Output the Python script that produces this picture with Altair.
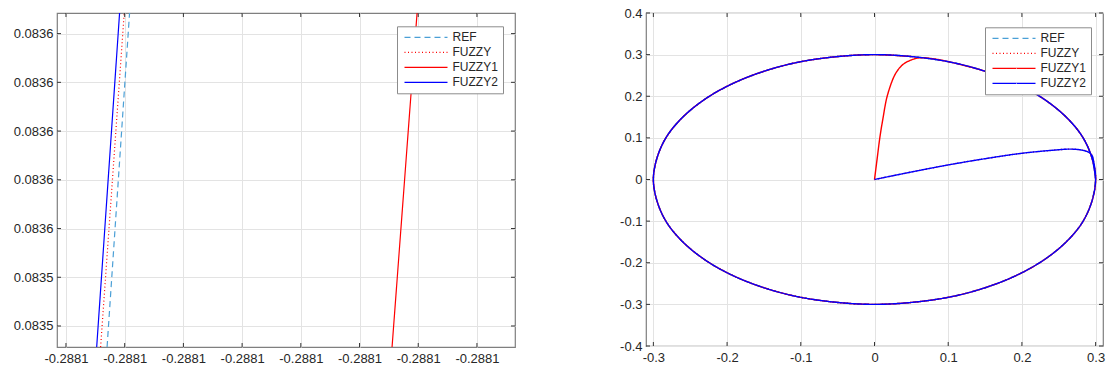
import altair as alt
import pandas as pd

SERIES = ["REF", "FUZZY", "FUZZY1", "FUZZY2"]
COLORS = ["#4a9fd6", "#ff0000", "#ff0000", "#0000ff"]
DASHES = [[6, 4], [1, 2.5], [1, 0], [1, 0]]

# ---------- left panel (zoomed view) ----------
L_XTICKS = [-0.288108, -0.288107, -0.288106, -0.288105, -0.288104, -0.288103, -0.288102, -0.288101]
L_YTICKS = [0.0835485, 0.0835495, 0.0835505, 0.0835515, 0.0835525, 0.0835535, 0.0835545]
L_XDOM = [-0.288108153, -0.288100352]
L_YDOM = [0.083548069, 0.083554923]
L_Y = [0.083548069, 0.083554923]
L_REF_X = [-0.288107300, -0.288106917]
L_FUZZY_X = [-0.288107410, -0.288107008]
L_FUZZY1_X = [-0.288102446, -0.288102020]
L_FUZZY2_X = [-0.288107477, -0.288107087]

# ---------- right panel (full trajectory) ----------
R_XTICKS = [-0.3, -0.2, -0.1, 0.0, 0.1, 0.2, 0.3]
R_YTICKS = [-0.4, -0.3, -0.2, -0.1, 0.0, 0.1, 0.2, 0.3, 0.4]
R_XDOM = [-0.31, 0.31]
R_YDOM = [-0.4, 0.4]
# reference circle, counter-clockwise from (0.3, 0)
CIRCLE_X = [0.300, 0.295, 0.282, 0.260, 0.230, 0.193, 0.150, 0.103, 0.052, 0.000,
            -0.052, -0.103, -0.150, -0.193, -0.230, -0.260, -0.282, -0.295, -0.300,
            -0.295, -0.282, -0.260, -0.230, -0.193, -0.150, -0.103, -0.052, 0.000,
            0.052, 0.103, 0.150, 0.193, 0.230, 0.260, 0.282, 0.295, 0.300]
CIRCLE_Y = [0.000, 0.052, 0.103, 0.150, 0.193, 0.230, 0.260, 0.282, 0.295, 0.300,
            0.295, 0.282, 0.260, 0.230, 0.193, 0.150, 0.103, 0.052, 0.000,
            -0.052, -0.103, -0.150, -0.193, -0.230, -0.260, -0.282, -0.295, -0.300,
            -0.295, -0.282, -0.260, -0.230, -0.193, -0.150, -0.103, -0.052, 0.000]
# approach paths from the origin
BLUE_APPROACH_X = [0.0, 0.05, 0.10, 0.15, 0.20, 0.24, 0.265, 0.28, 0.29, 0.295, 0.297]
BLUE_APPROACH_Y = [0.0, 0.018, 0.035, 0.050, 0.063, 0.070, 0.073, 0.071, 0.066, 0.058, 0.046]
RED_APPROACH_X = [0.0, 0.0036, 0.0072, 0.0118, 0.0172, 0.0272, 0.0349, 0.0416, 0.0543, 0.065, 0.078]
RED_APPROACH_Y = [0.0, 0.05, 0.10, 0.15, 0.20, 0.25, 0.27, 0.28, 0.29, 0.2925, 0.2905]


def rows(series, xs, ys):
    return [{"series": series, "i": i, "x": x, "y": y} for i, (x, y) in enumerate(zip(xs, ys))]


left_rows = (rows("REF", L_REF_X, L_Y) + rows("FUZZY", L_FUZZY_X, L_Y)
             + rows("FUZZY1", L_FUZZY1_X, L_Y) + rows("FUZZY2", L_FUZZY2_X, L_Y))

# clockwise circle starting at (0.3, 0)
cw_x = CIRCLE_X[::-1]
cw_y = CIRCLE_Y[::-1]
# red joins near 75 deg; clockwise from 70 deg
red_circ_x = CIRCLE_X[7::-1] + CIRCLE_X[-2:7:-1]
red_circ_y = CIRCLE_Y[7::-1] + CIRCLE_Y[-2:7:-1]

right_rows = (rows("REF", CIRCLE_X, CIRCLE_Y)
              + rows("FUZZY", BLUE_APPROACH_X + cw_x, BLUE_APPROACH_Y + cw_y)
              + rows("FUZZY1", RED_APPROACH_X + red_circ_x, RED_APPROACH_Y + red_circ_y)
              + rows("FUZZY2", BLUE_APPROACH_X + cw_x, BLUE_APPROACH_Y + cw_y))

FONT = "Liberation Sans"


def panel(data_rows, xdom, ydom, xticks, yticks, xfmt, yfmt, w, h, lx, ly, interp, sw):
    df = pd.DataFrame(data_rows)
    xe = alt.X("x:Q", scale=alt.Scale(domain=xdom, nice=False, zero=False),
               axis=alt.Axis(values=xticks, title=None,
                             labelExpr=f"replace(format(datum.value, '{xfmt}'), '\u2212', '-')"))
    ye = alt.Y("y:Q", scale=alt.Scale(domain=ydom, nice=False, zero=False),
               axis=alt.Axis(values=yticks, title=None,
                             labelExpr=f"replace(format(datum.value, '{yfmt}'), '\u2212', '-')"))
    leg = alt.Legend(orient="none", legendX=lx, legendY=ly, title=None,
                     symbolType="M0,0H8.6", symbolSize=100, symbolStrokeWidth=1.3,
                     symbolOffset=-3.5, labelOffset=42,
                     labelFont=FONT, labelFontSize=12, labelColor="#262626",
                     fillColor="white", strokeColor="#8c8c8c", padding=5,
                     rowPadding=3)
    col = alt.Color("series:N", scale=alt.Scale(domain=SERIES, range=COLORS), legend=leg)
    dash = alt.StrokeDash("series:N", scale=alt.Scale(domain=SERIES, range=DASHES), legend=leg)
    layers = []
    for s in SERIES:
        layers.append(
            alt.Chart(df).transform_filter(alt.datum.series == s)
            .mark_line(clip=True, strokeWidth=sw, interpolate=interp)
            .encode(x=xe, y=ye, color=col, strokeDash=dash, order="i:Q")
        )
    xt = pd.DataFrame({"x": xticks})
    yt = pd.DataFrame({"y": yticks})
    tick_style = dict(color="#333333", strokeWidth=1)
    layers += [
        alt.Chart(xt).mark_rule(**tick_style).encode(x=alt.X("x:Q"), y=alt.value(h), y2=alt.value(h - 4)),
        alt.Chart(xt).mark_rule(**tick_style).encode(x=alt.X("x:Q"), y=alt.value(0), y2=alt.value(4)),
        alt.Chart(yt).mark_rule(**tick_style).encode(y=alt.Y("y:Q"), x=alt.value(0), x2=alt.value(4)),
        alt.Chart(yt).mark_rule(**tick_style).encode(y=alt.Y("y:Q"), x=alt.value(w), x2=alt.value(w - 4)),
    ]
    return alt.layer(*layers).properties(width=w, height=h)


left = panel(left_rows, L_XDOM, L_YDOM, L_XTICKS, L_YTICKS, ".4f", ".4f",
             458, 334, 340, 13.3, "linear", 1.2)
right = panel(right_rows, R_XDOM, R_YDOM, R_XTICKS, R_YTICKS, ".1~f", ".1~f",
              457, 333, 339, 14.3, "catmull-rom", 1.4)

chart = (
    alt.hconcat(left, right, spacing=131, bounds="flush")
    .resolve_scale(color="independent", strokeDash="independent", x="independent", y="independent")
    .resolve_legend(color="independent", strokeDash="independent")
    .properties(padding={"left": 12, "top": 6, "right": 3, "bottom": 3}, background="white")
    .configure_view(stroke="#7f7f7f", strokeWidth=1.2)
    .configure_axis(grid=True, gridColor="#e3e3e3", gridWidth=1, domain=False, ticks=False,
                    labelFont=FONT, labelFontSize=13, labelColor="#262626", labelFlush=False)
    .configure_axisX(labelPadding=5)
    .configure_axisY(labelPadding=4)
)

chart.save("out.html", embed_options={"renderer": "svg", "actions": False})
